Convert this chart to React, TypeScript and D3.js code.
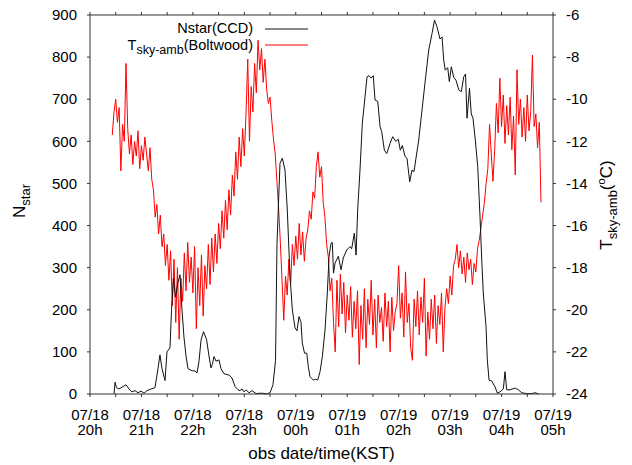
import React from "react";
import * as d3 from "d3";

// start of the night, 07/18 20:00 KST
const t0 = new Date(2011, 6, 18, 20, 0);
const t1 = new Date(2011, 6, 19, 5, 0);

// Nstar(CCD): minutes after 20:00 and star counts
const nstarMinutes = [
  28, 29.2, 30.9, 33.8, 37.3, 42, 45.5, 49, 52.5, 56, 59.5, 63, 66.5, 71.2, 75.8,
  79.3, 81.6, 84, 87.5, 89.8, 93.3, 95.1, 97.4, 99.7, 102.6, 105, 107.3, 109.6,
  112, 114.3, 119, 122.5, 124.8, 127.1, 129.5, 132.4, 135.9, 138.8, 141.1, 142.9,
  144.6, 147, 150.5, 152.8, 156.3, 162.1, 165.6, 169.1, 172.6, 175, 177.3, 179.6,
  182, 185.5, 189, 193.6, 200.6, 205.3, 210, 213.4, 216.4, 218.1, 221.6, 224.3,
  227.4, 230.1, 233.3, 236, 239.1, 241.4, 243.8, 246.1, 247.6, 250.2, 252.8, 254.6,
  256.6, 260.5, 263, 265.6, 268.3, 271, 274.1, 276.8, 278.8, 281.1, 282.6, 284,
  285.8, 289.6, 292.8, 295.4, 299.4, 303.3, 305.2, 308.3, 310.3, 312.2, 314.9,
  317.6, 320.8, 323.1, 325.4, 327.8, 330.4, 332.4, 335.6, 338.3, 340.2, 343.3,
  346.1, 349.9, 353.1, 356.6, 359.6, 361.9, 364.3, 367.4, 369.7, 372.9, 375.6,
  377.9, 380.2, 383.4, 387.2, 391.1, 395.1, 398.9, 401.8, 404.7, 408.2, 410.6,
  412.5, 414.4, 417.2, 419.1, 421.4, 424.2, 426.9, 430.1, 433.1, 435.9, 438,
  439.7, 442.6, 444.7, 446.7, 449.4, 452.2, 454.9, 456.9, 458.7, 461.9, 463.4,
  465.4, 468.5, 472.4, 475.1, 478.2, 482.1, 484, 486, 489.9, 495.7, 499.6, 503.5,
  509.4, 515.2, 519, 523.1,
];
const nstarValues = [
  0, 28, 15, 12, 16, 22, 12, 5, 8, 3, 7, 2, 8, 12, 15,
  60, 93, 60, 32, 100, 110, 200, 275, 230, 265, 283, 200, 135,
  90, 60, 55, 55, 50, 77, 128, 148, 130, 90, 62, 72,
  89, 78, 81, 60, 48, 45, 38, 18, 10, 8, 12, 5,
  10, 3, 8, 1, 2, 0, 3, 22, 80, 358, 548, 560,
  532, 437, 279, 200, 157, 150, 184, 170, 121, 97, 97, 65,
  41, 33, 35, 33, 53, 89, 152, 240, 326, 358, 360, 287,
  311, 327, 295, 323, 342, 350, 345, 382, 330, 437, 532,
  643, 706, 753, 756, 750, 756, 698, 695, 635, 623, 579,
  571, 595, 611, 600, 605, 579, 590, 564, 560, 504, 532,
  528, 560, 603, 674, 746, 817, 856, 888, 872, 843, 848,
  793, 769, 775, 742, 777, 752, 745, 722, 718, 753, 760,
  655, 726, 665, 655, 603, 540, 420, 318, 240, 160, 81,
  33, 31, 17, 2, 5, 12, 53, 10, 10, 14, 10, 3,
  1, 1, 3, 0,
];

// Tsky-amb(Boltwood): one reading every 2 minutes from 20:26
const tskyStart = 26;
const tskyStep = 2;
const tskyValues = [
  -11.7, -10.6, -10.0, -11.1, -10.4, -13.4, -11.2, -12.0, -8.3, -11.4,
  -12.6, -11.7, -13.1, -12.0, -12.7, -11.5, -13.3, -12.2, -12.9, -11.8,
  -12.6, -13.4, -12.3, -13.8, -14.3, -15.6, -15.0, -16.4, -15.5, -17.0,
  -16.4, -17.9, -16.9, -18.6, -17.2, -19.8, -17.6, -20.6, -18.0, -21.4,
  -18.5, -19.6, -17.3, -19.1, -16.8, -18.7, -17.5, -19.2, -17.0, -20.9,
  -18.0, -19.8, -17.4, -20.3, -17.9, -19.0, -16.9, -18.8, -16.6, -18.2,
  -16.4, -17.8, -15.9, -17.1, -15.3, -16.6, -14.8, -16.2, -14.3, -15.5,
  -13.6, -14.6, -12.5, -13.8, -11.8, -13.2, -11.4, -12.7, -10.6, -8.1,
  -12.0, -9.4, -10.6, -8.3, -9.7, -7.2, -8.6, -7.6, -9.2, -8.1,
  -9.5, -10.2, -9.9, -11.0, -11.9, -12.6, -13.9, -15.2, -16.8, -18.6,
  -20.5, -18.4, -19.3, -17.6, -18.8, -16.9, -17.9, -16.5, -17.6, -15.9,
  -17.4, -16.3, -17.7, -16.6, -16.2, -15.3, -15.7, -14.4, -14.7, -13.2,
  -12.5, -13.7, -13.2, -14.9, -15.6, -16.9, -17.5, -19.1, -18.5, -20.6,
  -22.0, -18.6, -20.8, -18.3, -20.2, -18.7, -21.1, -19.3, -20.5, -18.9,
  -21.3, -19.6, -20.9, -19.1, -22.6, -19.8, -21.4, -19.0, -21.8, -19.5,
  -20.7, -18.6, -21.2, -19.5, -21.8, -19.3, -20.6, -19.9, -21.5, -19.2,
  -20.8, -19.6, -22.0, -19.4, -21.0, -20.1, -19.7, -17.9, -20.4, -19.2,
  -21.3, -18.2, -20.6, -19.7, -21.8, -22.4, -19.5, -20.8, -19.1, -21.2,
  -19.4, -20.6, -18.5, -22.2, -20.1, -21.4, -19.5, -20.9, -19.3, -21.6,
  -19.8, -20.7, -19.2, -22.0, -19.9, -19.0, -19.7, -18.4, -19.3, -17.9,
  -17.6, -16.9, -18.0, -17.2, -18.3, -17.5, -18.7, -17.3, -18.1, -17.6,
  -18.8, -17.8, -18.2, -17.1, -16.7, -16.1, -15.5, -14.9, -14.0, -13.3,
  -11.2, -12.6, -13.9, -12.4, -10.2, -11.6, -9.0, -11.3, -9.8, -12.1,
  -10.3, -11.7, -9.9, -12.4, -10.8, -13.6, -8.6, -11.2, -10.0, -11.8,
  -10.4, -12.0, -9.8, -11.5, -10.6, -7.9, -11.3, -10.7, -12.3, -11.1,
  -14.9,
];

const nstarTicks = [0, 100, 200, 300, 400, 500, 600, 700, 800, 900];
const tskyTicks = [-24, -22, -20, -18, -16, -14, -12, -10, -8, -6];

const font = "'Liberation Sans', Arial, Helvetica, sans-serif";
const axisColor = "#333";

const at = (min: number) => new Date(t0.getTime() + min * 60000);

export default function App() {
  const left = 90, right = 553, top = 15, bottom = 394;

  const x = d3.scaleTime().domain([t0, t1]).range([left, right]);
  const yN = d3.scaleLinear().domain([0, 900]).range([bottom, top]);
  const yT = d3.scaleLinear().domain([-24, -6]).range([bottom, top]);

  const nLine = d3.line<number>()
    .x((_, i) => x(at(nstarMinutes[i])))
    .y(d => yN(d));
  const tLine = d3.line<number>()
    .x((_, i) => x(at(tskyStart + i * tskyStep)))
    .y(d => yT(d));

  const hourTicks = x.ticks(d3.timeHour.every(1)!);
  const halfTicks = x.ticks(d3.timeMinute.every(30)!);
  const fmtDay = d3.timeFormat("%m/%d");
  const fmtHour = d3.timeFormat("%Hh");

  return (
    <svg width={632} height={465} style={{ position: "absolute", left: 0, top: 0, background: "#fff" }}
      fontFamily={font}>
      {/* data */}
      <path d={tLine(tskyValues) || ""} fill="none" stroke="#ff0000" strokeWidth={1} />
      <path d={nLine(nstarValues) || ""} fill="none" stroke="#111" strokeWidth={1} />

      {/* frame */}
      <rect x={left} y={top} width={right - left} height={bottom - top} fill="none" stroke={axisColor} strokeWidth={1} />

      {halfTicks.map((d, i) => (
        <g key={"xt" + i} stroke={axisColor}>
          <line x1={x(d)} x2={x(d)} y1={bottom} y2={bottom + 3} />
          <line x1={x(d)} x2={x(d)} y1={top} y2={top - 3} />
        </g>
      ))}
      {hourTicks.map((d, i) => (
        <text key={"xl" + i} x={x(d)} textAnchor="middle" fontSize={15} fill="#000">
          <tspan x={x(d)} y={419.5}>{fmtDay(d)}</tspan>
          <tspan x={x(d)} y={435}>{fmtHour(d)}</tspan>
        </text>
      ))}

      {nstarTicks.map(v => (
        <g key={"yl" + v}>
          <line x1={left - 3} x2={left} y1={yN(v)} y2={yN(v)} stroke={axisColor} />
          <text x={77} y={yN(v)} dy="0.35em" textAnchor="end" fontSize={15}>{v}</text>
        </g>
      ))}
      {tskyTicks.map(v => (
        <g key={"yr" + v}>
          <line x1={right} x2={right + 3} y1={yT(v)} y2={yT(v)} stroke={axisColor} />
          <text x={566} y={yT(v)} dy="0.35em" textAnchor="start" fontSize={15}>{v}</text>
        </g>
      ))}

      {/* axis titles */}
      <text x={(left + right) / 2} y={458.5} textAnchor="middle" fontSize={17}>obs date/time(KST)</text>
      <text transform="translate(25,201) rotate(-90)" textAnchor="middle" fontSize={17}>
        N<tspan fontSize={13} dy={5}>star</tspan>
      </text>
      <text transform="translate(612,205) rotate(-90)" textAnchor="middle" fontSize={17}>
        T<tspan fontSize={13} dy={5}>sky-amb</tspan><tspan dy={-5}>(</tspan>
        <tspan fontSize={11} dy={-7}>o</tspan><tspan dy={7}>C)</tspan>
      </text>

      {/* legend */}
      <text x={253} y={33} textAnchor="end" fontSize={14.5}>Nstar(CCD)</text>
      <line x1={265} x2={308} y1={29} y2={29} stroke="#111" />
      <text x={253} y={49.5} textAnchor="end" fontSize={14.5}>
        T<tspan fontSize={12.5} dy={4}>sky-amb</tspan><tspan dy={-4}>(Boltwood)</tspan>
      </text>
      <line x1={265} x2={308} y1={45} y2={45} stroke="#ff0000" />
    </svg>
  );
}
